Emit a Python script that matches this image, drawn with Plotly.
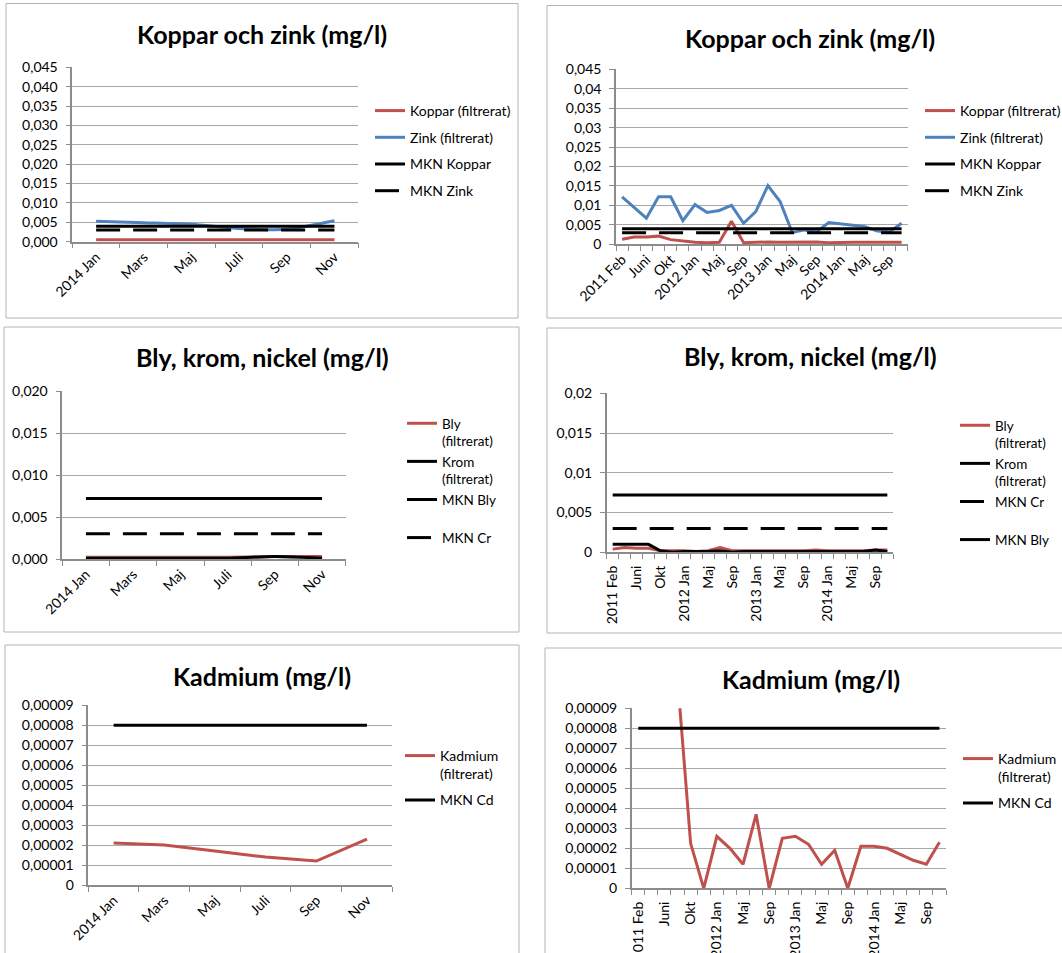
import plotly.graph_objects as go

W, H = 1062, 953

# ---------------- data ----------------
labels_all = ["2011 Feb", "April", "Juni", "Aug", "Okt", "Nov", "2012 Jan", "Mars", "Maj", "Juli",
              "Sep", "Nov", "2013 Jan", "Mars", "Maj", "Juli", "Sep", "Nov", "2014 Jan", "Mars",
              "Maj", "Juli", "Sep", "Nov"]
labels_2014 = ["2014 Jan", "Mars", "Maj", "Juli", "Sep", "Nov"]

koppar = [0.0013, 0.0019, 0.0019, 0.0021, 0.0012, 0.0008, 0.0005, 0.0004, 0.0005, 0.0059, 0.0004, 0.0005,
          0.0006, 0.0005, 0.0005, 0.0006, 0.0006, 0.0004, 0.0005, 0.0005, 0.0005, 0.0005, 0.0005, 0.0005]
zink = [0.0122, 0.0095, 0.0067, 0.0122, 0.0122, 0.0061, 0.0102, 0.0082, 0.0087, 0.0100, 0.0054, 0.0084,
        0.0151, 0.0110, 0.0030, 0.0037, 0.0032, 0.0056, 0.0053, 0.0049, 0.0045, 0.0034, 0.0032, 0.0054]
bly = [0.0004, 0.0006, 0.0005, 0.0005, 0.0002, 0.0002, 0.0002, 0.0001, 0.0002, 0.0006, 0.0002, 0.0002,
       0.0002, 0.0002, 0.0002, 0.0002, 0.0002, 0.0003, 0.0002, 0.0002, 0.0002, 0.0002, 0.0003, 0.0003]
krom = [0.0010, 0.0010, 0.0010, 0.0010, 0.0002, 0.0000, 0.0001, 0.0001, 0.0001, 0.0002, 0.0000, 0.0001,
        0.0001, 0.0001, 0.0001, 0.0001, 0.0001, 0.0001, 0.0001, 0.0001, 0.0001, 0.0001, 0.0003, 0.0001]
kadmium = [None, None, None, 0.000105, 0.0000225, 0.0, 0.000026, 0.000020, 0.000012, 0.000037, 0.0, 0.000025,
           0.000026, 0.000022, 0.000012, 0.000019, 0.0, 0.000021, 0.000021, 0.000020, 0.000017, 0.000014,
           0.000012, 0.000023]

mkn_koppar = 0.004
mkn_zink = 0.003
mkn_bly = 0.0072
mkn_cr = 0.003
mkn_cd = 0.00008

# ---------------- style ----------------
RED = "#C0504D"
BLUE = "#4F81BD"
BLACK = "#000000"
GRID = "#a8a8a8"
AXIS = "#8c8c8c"
FONT = "Lato"
DASH = "24px,13px"
TICK_SIZE = 14


def fx(p):
    return p / W


def fy(p):
    return 1 - p / H


# plot areas in pixels: (x0, x1, y0(top), y1(bottom))
panels = [
    dict(area=(72.3, 358.3, 67.3, 241.7), ymax=0.045, dtick=0.005, fmt=".3f", angle=-45, xstand=0,
         title="Koppar och zink (mg/l)", tpos=(262, 34), leg=(370, 95), gap=5.5, lfs=14,
         border=(6, 518, 3.5, 318)),
    dict(area=(616, 907.7, 69.3, 244.3), ymax=0.045, dtick=0.005, fmt=".3~f", angle=-45, xstand=0,
         title="Koppar och zink (mg/l)", tpos=(810, 38), leg=(920, 95), gap=5.5, lfs=14,
         border=(547, 1070, 5.5, 318)),
    dict(area=(62.3, 345.7, 391, 559), ymax=0.02, dtick=0.005, fmt=".3f", angle=-45, xstand=0,
         title="Bly, krom, nickel (mg/l)", tpos=(262, 357), leg=(402, 408), gap=0, lfs=13.5,
         border=(4, 519, 327, 632)),
    dict(area=(606.7, 893.3, 393.3, 552.3), ymax=0.02, dtick=0.005, fmt=".3~f", angle=-90, xstand=6,
         title="Bly, krom, nickel (mg/l)", tpos=(810, 356), leg=(955, 410), gap=0, lfs=13.5,
         border=(547, 1070, 328, 633)),
    dict(area=(88.3, 392.3, 705.3, 885), ymax=0.00009, dtick=0.00001, fmt=".5~f", angle=-45, xstand=0,
         title="Kadmium (mg/l)", tpos=(262, 676), leg=(400, 740), gap=5, lfs=14,
         border=(5, 519, 645, 970)),
    dict(area=(631.7, 946, 708.3, 888.3), ymax=0.00009, dtick=0.00001, fmt=".5~f", angle=-90, xstand=6,
         title="Kadmium (mg/l)", tpos=(811, 679), leg=(958, 743), gap=5, lfs=14,
         border=(545, 1070, 648, 970)),
]

n_all = len(labels_all)
n14 = len(labels_2014)
x_all = list(range(n_all))
x14 = list(range(n14))

# series per panel: (x, y, name, color, dash, shape)
series = [
    [
        (x14, koppar[-n14:], "Koppar (filtrerat)", RED, "solid", "spline"),
        (x14, zink[-n14:], "Zink (filtrerat)", BLUE, "solid", "spline"),
        (x14, [mkn_koppar] * n14, "MKN Koppar", BLACK, "solid", "linear"),
        (x14, [mkn_zink] * n14, "MKN Zink", BLACK, DASH, "linear"),
    ],
    [
        (x_all, koppar, "Koppar (filtrerat)", RED, "solid", "linear"),
        (x_all, zink, "Zink (filtrerat)", BLUE, "solid", "linear"),
        (x_all, [mkn_koppar] * n_all, "MKN Koppar", BLACK, "solid", "linear"),
        (x_all, [mkn_zink] * n_all, "MKN Zink", BLACK, DASH, "linear"),
    ],
    [
        (x14, bly[-n14:], "Bly<br>(filtrerat)", RED, "solid", "spline"),
        (x14, krom[-n14:], "Krom<br>(filtrerat)", BLACK, "solid", "spline"),
        (x14, [mkn_bly] * n14, "MKN Bly<br>\u00a0", BLACK, "solid", "linear"),
        (x14, [mkn_cr] * n14, "MKN Cr", BLACK, DASH, "linear"),
    ],
    [
        (x_all, bly, "Bly<br>(filtrerat)", RED, "solid", "linear"),
        (x_all, krom, "Krom<br>(filtrerat)", BLACK, "solid", "linear"),
        (x_all, [mkn_cr] * n_all, "MKN Cr<br>\u00a0", BLACK, DASH, "linear"),
        (x_all, [mkn_bly] * n_all, "MKN Bly", BLACK, "solid", "linear"),
    ],
    [
        (x14, kadmium[-n14:], "Kadmium<br>(filtrerat)", RED, "solid", "linear"),
        (x14, [mkn_cd] * n14, "MKN Cd", BLACK, "solid", "linear"),
    ],
    [
        (x_all, kadmium, "Kadmium<br>(filtrerat)", RED, "solid", "linear"),
        (x_all, [mkn_cd] * n_all, "MKN Cd", BLACK, "solid", "linear"),
    ],
]

fig = go.Figure()
layout = dict(
    width=W, height=H,
    margin=dict(l=0, r=0, t=0, b=0, autoexpand=False),
    paper_bgcolor="white", plot_bgcolor="white",
    separators=",.",
    font=dict(family=FONT, size=13, color="black"),
    showlegend=True,
    annotations=[], shapes=[],
)

for k, (p, ser) in enumerate(zip(panels, series)):
    i = k + 1
    sfx = "" if i == 1 else str(i)
    legname = "legend" + sfx
    x0, x1, yt, yb = p["area"]
    long_axis = len(ser[0][0]) == n_all
    n = n_all if long_axis else n14
    labels = labels_all if long_axis else labels_2014
    step = 2 if long_axis else 1

    for (xs, ys, name, color, dash, shape) in ser:
        if shape == "spline":
            line = dict(color=color, width=3, dash=dash, shape=shape, smoothing=0.6)
        else:
            line = dict(color=color, width=3, dash=dash)
        fig.add_trace(go.Scatter(
            x=xs, y=ys, mode="lines", name=name, line=line,
            xaxis="x" + sfx, yaxis="y" + sfx, legend=legname,
            legendgroup=f"p{i}-{name}", connectgaps=False, hoverinfo="skip",
        ))

    layout["xaxis" + sfx] = dict(
        domain=[fx(x0), fx(x1)], anchor="y" + sfx,
        range=[-0.5, n - 0.5], showgrid=False, zeroline=False,
        showline=True, linecolor=AXIS, linewidth=1.5,
        tickmode="array", tickvals=list(range(0, n, step)), ticktext=labels[::step],
        ticks="", tickangle=p["angle"], ticklabelstandoff=p["xstand"],
        tickfont=dict(family=FONT, size=TICK_SIZE, color="black"),
        minor=dict(tickmode="array", tickvals=[j - 0.5 for j in range(n + 1)],
                   ticks="outside", ticklen=5, tickcolor=AXIS, tickwidth=1, showgrid=False),
        fixedrange=True,
    )
    layout["yaxis" + sfx] = dict(
        domain=[fy(yb), fy(yt)], anchor="x" + sfx,
        range=[0, p["ymax"] * (1 + 1e-6)], tickmode="linear", tick0=0, dtick=p["dtick"],
        tickformat=p["fmt"], showgrid=True, gridcolor=GRID, gridwidth=1, zeroline=False,
        showline=True, linecolor=AXIS, linewidth=1.5,
        ticks="outside", ticklen=5, tickcolor=AXIS, tickwidth=1,
        ticklabelstandoff=5,
        tickfont=dict(family=FONT, size=TICK_SIZE, color="black"), fixedrange=True,
    )
    lx, ly = p["leg"]
    layout[legname] = dict(
        x=fx(lx), y=fy(ly), xref="paper", yref="paper", xanchor="left", yanchor="top",
        bgcolor="rgba(0,0,0,0)", borderwidth=0, font=dict(family=FONT, size=p["lfs"], color="black"),
        traceorder="grouped", tracegroupgap=p["gap"], valign="top", itemclick=False,
    )
    tx, ty = p["tpos"]
    layout["annotations"].append(dict(
        x=fx(tx), y=fy(ty), xref="paper", yref="paper", xanchor="center", yanchor="middle",
        text="<b>" + p["title"] + "</b>", showarrow=False,
        font=dict(family=FONT, size=25, color="black"),
    ))
    bx0, bx1, by0, by1 = p["border"]
    layout["shapes"].append(dict(
        type="rect", xref="paper", yref="paper", x0=fx(bx0), x1=fx(bx1), y0=fy(by1), y1=fy(by0),
        line=dict(color="#b4b4b4", width=1), fillcolor="rgba(0,0,0,0)", layer="below",
    ))

fig.update_layout(**layout)
fig.write_html("out.html")
